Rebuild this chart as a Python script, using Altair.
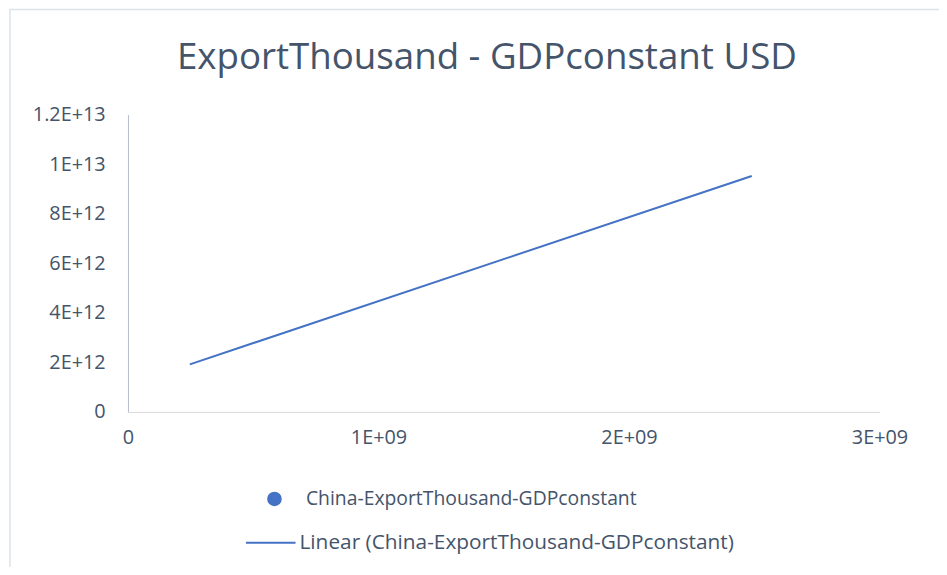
import altair as alt
import pandas as pd

# Trendline endpoints
trend_x = [2.47e8, 2.49e9]
trend_y = [1.92e12, 9.52e12]

series_name = "China-ExportThousand-GDPconstant"
trend_name = "Linear (China-ExportThousand-GDPconstant)"

x_ticks = [0, 1e9, 2e9, 3e9]
x_tick_labels = ["0", "1E+09", "2E+09", "3E+09"]
y_ticks = [0, 2e12, 4e12, 6e12, 8e12, 1e13, 1.2e13]
y_tick_labels = ["0", "2E+12", "4E+12", "6E+12", "8E+12", "1E+13", "1.2E+13"]

title_text = "ExportThousand - GDPconstant USD"

BLUE = "#4472C4"
TXT = "#44546A"
FONT = "Open Sans"

df = pd.DataFrame({"x": trend_x, "y": trend_y,
                   "s": [series_name] * 2, "t": [trend_name] * 2})
title_df = pd.DataFrame({"title": [title_text]})

xlabel_expr = "[" + ",".join(f"'{l}'" for l in x_tick_labels) + "][round(datum.value/1e9)]"
ylabel_expr = "[" + ",".join(f"'{l}'" for l in y_tick_labels) + "][round(datum.value/2e12)]"

x_enc = alt.X("x:Q", scale=alt.Scale(domain=[0, 3e9], nice=False),
              axis=alt.Axis(values=x_ticks, labelExpr=xlabel_expr, title=None,
                            grid=False, ticks=False, domainColor="#D9D9D9",
                            labelPadding=16, labelFontSize=20, labelFont=FONT,
                            labelColor=TXT, labelFlush=False))
y_enc = alt.Y("y:Q", scale=alt.Scale(domain=[0, 1.2e13], nice=False),
              axis=alt.Axis(values=y_ticks, labelExpr=ylabel_expr, title=None,
                            grid=False, ticks=False, domainColor="#B4BCCB",
                            labelPadding=23, labelFontSize=20, labelFont=FONT,
                            labelColor=TXT))

border = alt.Chart(title_df).mark_rect(fill=None, stroke="#DCE2EA", strokeWidth=1.5, clip=False).encode(
    x=alt.value(-119), x2=alt.value(1000), y=alt.value(-106), y2=alt.value(600))

title = alt.Chart(title_df).mark_text(fontSize=37, font=FONT, color=TXT, align="center",
                                      baseline="alphabetic").encode(
    x=alt.value(362), y=alt.value(-46), text="title:N")

points = alt.Chart(df).mark_point(filled=True, size=0, opacity=1).encode(
    x=x_enc, y=y_enc,
    color=alt.Color("s:N", scale=alt.Scale(domain=[series_name], range=[BLUE]),
                    legend=alt.Legend(title=None, orient="none", legendX=138, legendY=378,
                                      symbolType="circle", symbolSize=175,
                                      symbolFillColor=BLUE, symbolStrokeColor=BLUE,
                                      labelFontSize=19.5, labelFont=FONT, labelColor=TXT,
                                      labelOffset=22, labelLimit=0)))

line = alt.Chart(df).mark_line(strokeWidth=2).encode(
    x=x_enc, y=y_enc,
    stroke=alt.Stroke("t:N", scale=alt.Scale(domain=[trend_name], range=[BLUE]),
                      legend=alt.Legend(title=None, orient="none", legendX=118, legendY=406,
                                        symbolType="stroke", symbolSize=2500,
                                        symbolStrokeWidth=2,
                                        labelFontSize=21, labelFont=FONT, labelColor=TXT,
                                        labelOffset=3, labelLimit=0)))

chart = alt.layer(border, title, line, points).resolve_scale(
    color="independent", stroke="independent").properties(
    width=758, height=300,
    autosize=alt.AutoSizeParams(type="none"),
    padding={"left": 121, "top": 105, "right": 60, "bottom": 154},
).configure_view(stroke=None)

chart.save("out.html", embed_options={"renderer": "svg", "actions": False})
